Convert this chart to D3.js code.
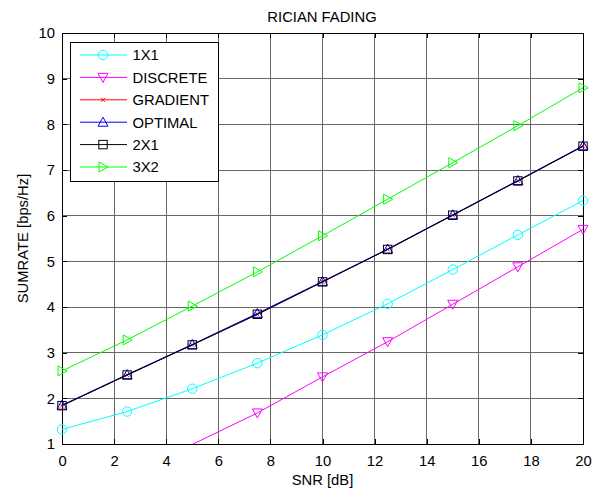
<!DOCTYPE html>
<html>
<head>
<meta charset="utf-8">
<script src="https://cdn.jsdelivr.net/npm/d3@7"></script>
<style>
  body { margin: 0; background: #fff; }
  text { font-family: "Liberation Sans", Arial, sans-serif; }
</style>
</head>
<body>
<svg id="chart"></svg>
<script>
const snr = [0, 2.5, 5, 7.5, 10, 12.5, 15, 17.5, 20];
const r1x1 = [1.32, 1.71, 2.21, 2.77, 3.39, 4.07, 4.82, 5.58, 6.33];
const discrete = [0.3, 0.62, 0.99, 1.68, 2.47, 3.24, 4.06, 4.88, 5.70];
const gradient = [1.84, 2.51, 3.17, 3.84, 4.55, 5.26, 6.01, 6.76, 7.52];
const optimal = [1.85, 2.52, 3.18, 3.86, 4.56, 5.27, 6.02, 6.77, 7.53];
const r2x1 = [1.84, 2.51, 3.17, 3.84, 4.55, 5.26, 6.01, 6.76, 7.52];
const r3x2 = [2.60, 3.28, 4.02, 4.77, 5.56, 6.36, 7.16, 7.97, 8.80];
const xTicks = [0, 2, 4, 6, 8, 10, 12, 14, 16, 18, 20];
const yTicks = [1, 2, 3, 4, 5, 6, 7, 8, 9, 10];

const series = [
  { name: "1X1", values: r1x1, color: "#00ffff", marker: "circle" },
  { name: "DISCRETE", values: discrete, color: "#ff00ff", marker: "tridown" },
  { name: "GRADIENT", values: gradient, color: "#ff0000", marker: "x" },
  { name: "OPTIMAL", values: optimal, color: "#0000ff", marker: "triup" },
  { name: "2X1", values: r2x1, color: "#000000", marker: "square" },
  { name: "3X2", values: r3x2, color: "#00ff00", marker: "triright" }
];

const fontSize = "14.8px";
const width = 602, height = 490;
const svg = d3.select("#chart").attr("width", width).attr("height", height);
const margin = { top: 33, left: 62, right: 19, bottom: 46 };
const innerWidth = width - margin.left - margin.right;
const innerHeight = height - margin.top - margin.bottom;

const xScale = d3.scaleLinear().domain([0, 20]).range([0, innerWidth]);
const yScale = d3.scaleLinear().domain([1, 10]).range([innerHeight, 0]);

const g = svg.append("g").attr("transform", `translate(${margin.left},${margin.top})`);

g.append("defs").append("clipPath").attr("id", "clip")
  .append("rect").attr("width", innerWidth).attr("height", innerHeight);

// grid
g.append("g").selectAll("line").data(xTicks).join("line")
  .attr("x1", d => xScale(d)).attr("x2", d => xScale(d))
  .attr("y1", 0).attr("y2", innerHeight)
  .attr("stroke", "#666").attr("stroke-width", 1).attr("shape-rendering", "crispEdges");
g.append("g").selectAll("line").data(yTicks).join("line")
  .attr("y1", d => yScale(d)).attr("y2", d => yScale(d))
  .attr("x1", 0).attr("x2", innerWidth)
  .attr("stroke", "#666").attr("stroke-width", 1).attr("shape-rendering", "crispEdges");

// axes (ticks inside)
const xAxis = d3.axisBottom(xScale).tickValues(xTicks).tickSize(-5).tickPadding(11).tickFormat(d3.format("d"));
const yAxis = d3.axisLeft(yScale).tickValues(yTicks).tickSize(-5).tickPadding(7).tickFormat(d3.format("d"));
const xAxisG = g.append("g").attr("transform", `translate(0,${innerHeight})`).call(xAxis);
const yAxisG = g.append("g").call(yAxis);
const xTop = g.append("g").call(d3.axisTop(xScale).tickValues(xTicks).tickSize(-5));
const yRight = g.append("g").attr("transform", `translate(${innerWidth},0)`)
  .call(d3.axisRight(yScale).tickValues(yTicks).tickSize(-5));
xTop.selectAll("text").remove();
yRight.selectAll("text").remove();
[xAxisG, yAxisG, xTop, yRight].forEach(a => {
  a.selectAll("path, line").attr("stroke", "#000").attr("shape-rendering", "crispEdges");
  a.selectAll("text").attr("font-size", fontSize).attr("fill", "#000")
    .style("font-family", '"Liberation Sans", Arial, sans-serif');
});

// markers
function drawMarker(sel, type, color) {
  if (type === "circle") {
    sel.append("circle").attr("r", 4.7).attr("fill", "none").attr("stroke", color);
  } else if (type === "square") {
    sel.append("rect").attr("x", -4.2).attr("y", -4.2).attr("width", 8.4).attr("height", 8.4)
      .attr("fill", "none").attr("stroke", color);
  } else if (type === "x") {
    sel.append("path").attr("d", "M-2,-2L2,2M-2,2L2,-2").attr("stroke", color).attr("fill", "none");
  } else {
    const s = 5;
    let d;
    if (type === "tridown") d = `M${-s},${-s * 0.8}L${s},${-s * 0.8}L0,${s}Z`;
    if (type === "triup") d = `M${-s},${s * 0.8}L${s},${s * 0.8}L0,${-s}Z`;
    if (type === "triright") d = `M${-s * 0.8},${-s}L${-s * 0.8},${s}L${s},0Z`;
    sel.append("path").attr("d", d).attr("fill", "none").attr("stroke", color);
  }
}

const line = d3.line().x((d, i) => xScale(snr[i])).y(d => yScale(d));
series.forEach(s => {
  g.append("path").attr("d", line(s.values)).attr("fill", "none")
    .attr("stroke", s.color).attr("stroke-width", 1).attr("clip-path", "url(#clip)");
  const pts = s.values.map((v, i) => [snr[i], v]).filter(p => p[1] >= 1 && p[1] <= 10);
  g.append("g").selectAll("g").data(pts).join("g")
    .attr("transform", p => `translate(${xScale(p[0])},${yScale(p[1])})`)
    .each(function () { drawMarker(d3.select(this), s.marker, s.color); });
});

// legend
const legend = g.append("g").attr("transform", "translate(8,9)");
legend.append("rect").attr("width", 148).attr("height", 139)
  .attr("fill", "#fff").attr("stroke", "#000").attr("shape-rendering", "crispEdges");
series.forEach((s, i) => {
  const row = legend.append("g").attr("transform", `translate(0,${13 + i * 22.4})`);
  row.append("line").attr("x1", 10).attr("x2", 57).attr("stroke", s.color);
  drawMarker(row.append("g").attr("transform", "translate(33,0)"), s.marker, s.color);
  row.append("text").attr("x", 62.5).attr("y", 5.3).attr("font-size", fontSize).text(s.name);
});

// titles
svg.append("text").attr("x", 322).attr("y", 22).attr("text-anchor", "middle")
  .attr("font-size", fontSize).text("RICIAN FADING");
svg.append("text").attr("x", margin.left + innerWidth / 2).attr("y", 485).attr("text-anchor", "middle")
  .attr("font-size", fontSize).text("SNR [dB]");
svg.append("text").attr("transform", `translate(28,${margin.top + innerHeight / 2}) rotate(-90)`)
  .attr("text-anchor", "middle").attr("font-size", fontSize).text("SUMRATE [bps/Hz]");
</script>
</body>
</html>
